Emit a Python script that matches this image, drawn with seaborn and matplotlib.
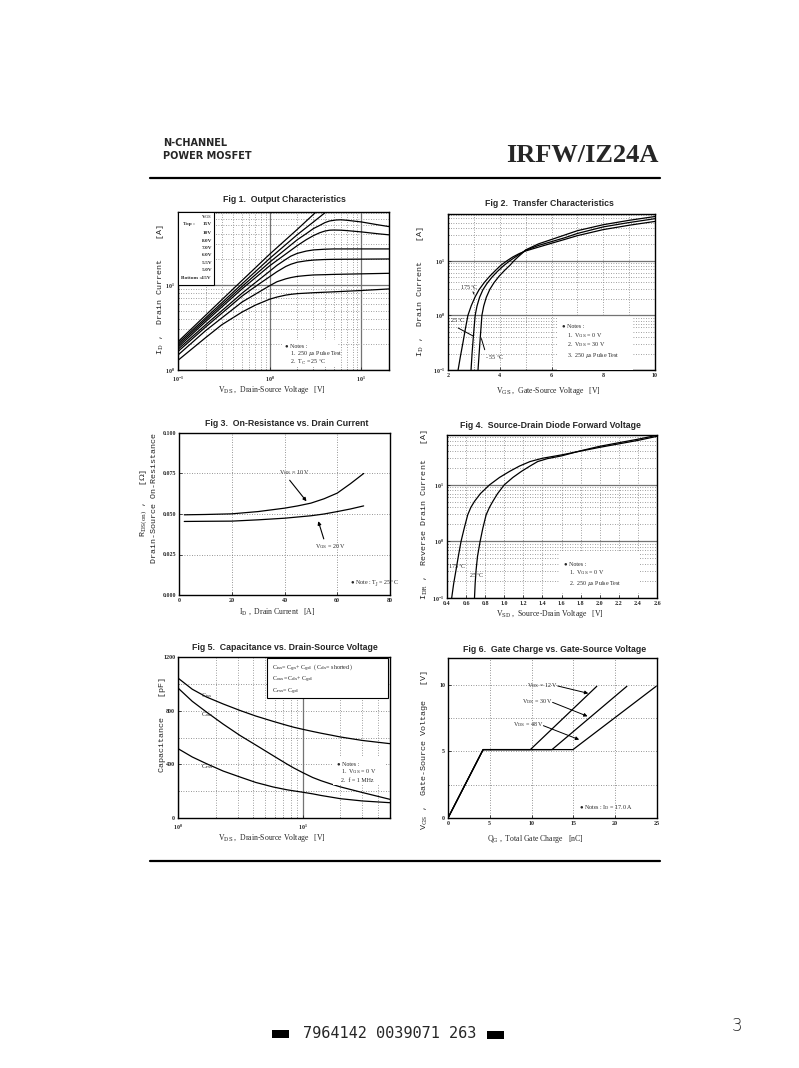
import matplotlib
matplotlib.use("Agg")
import matplotlib.pyplot as plt
import matplotlib.ticker as ticker
import matplotlib.patches as patches
import seaborn as sns

W, H = 799, 1068

# ---------------- data ----------------
# Fig 1 output characteristics : VDS [V] -> ID [A], one curve per VGS
vds_15v = [0.1, 0.2, 0.5, 1, 2, 3.2, 3.4]
id_15v = [2.15, 4.4, 11.3, 23, 45, 72, 76]
vds_10v = [0.1, 0.2, 0.5, 1, 2, 3, 4.1, 4.3]
id_10v = [2.05, 4.1, 10.3, 20.5, 39, 55, 72, 75]
vds_8v = [0.1, 0.2, 0.5, 1, 2, 2.5, 3, 3.5, 4, 4.5, 5.3, 6, 7, 10, 15, 20]
id_8v = [1.95, 3.9, 9.6, 18.5, 34, 40, 46, 50, 54, 56.5, 58, 58.3, 57.5, 55, 51, 48.5]
vds_7v = [0.1, 0.2, 0.5, 1, 2, 2.5, 3, 3.5, 4, 4.5, 5, 6, 7, 10, 15, 20]
id_7v = [1.85, 3.7, 9.0, 16.8, 29, 34, 38, 41, 43, 44, 44.2, 44, 43.5, 42, 40, 38.8]
vds_6v = [0.1, 0.2, 0.5, 1, 1.2, 1.5, 1.7, 2, 2.5, 3, 4, 5, 10, 20]
id_6v = [1.75, 3.4, 8.0, 14.5, 17, 20, 21.8, 23.5, 25, 25.8, 26.3, 26.5, 26.5, 26.5]
vds_55v = [0.1, 0.2, 0.5, 0.7, 1, 1.2, 1.5, 1.7, 2, 2.5, 3, 4, 5, 10, 20]
id_55v = [1.65, 3.2, 7.4, 9.6, 12.5, 14.3, 16.5, 17.5, 18.5, 19.2, 19.6, 19.9, 20, 20.1, 20.2]
vds_5v = [0.1, 0.2, 0.5, 0.7, 1, 1.2, 1.5, 1.7, 2, 2.5, 3, 4, 5, 10, 20]
id_5v = [1.5, 2.9, 6.3, 7.8, 9.8, 10.9, 11.8, 12.2, 12.6, 12.9, 13.1, 13.2, 13.3, 13.5, 13.7]
vds_45v = [0.1, 0.2, 0.3, 0.5, 0.7, 1, 1.2, 1.5, 1.7, 2, 3, 5, 10, 20]
id_45v = [1.3, 2.4, 3.4, 4.8, 5.8, 6.8, 7.2, 7.6, 7.75, 7.9, 8.1, 8.3, 8.6, 8.97]
fig1_vgs = ['15V', '10V', '8.0V', '7.0V', '6.0V', '5.5V', '5.0V', '4.5V']

# Fig 2 transfer characteristics : VGS [V] -> ID [A]
vgs_175c = [2.39, 2.48, 2.57, 2.67, 2.77, 2.90, 3.05, 3.20, 3.40, 3.60, 3.85, 4.05, 4.28,
            4.50, 4.75, 5.0, 5.5, 6.0, 6.5, 7.0, 8.0, 9.0, 10.0]
id_175c = [0.1, 0.178, 0.302, 0.562, 1.0, 1.51, 2.19, 2.95, 3.98, 5.13, 6.76, 8.32, 10.0,
           11.7, 13.5, 15.1, 17.8, 20.9, 24.5, 28.8, 37.2, 44.7, 52.5]
vgs_25c = [2.89, 2.93, 2.97, 3.01, 3.05, 3.12, 3.22, 3.35, 3.50, 3.70, 3.90, 4.15, 4.39,
           4.60, 4.80, 5.0, 5.5, 6.0, 6.5, 7.0, 8.0, 9.0, 10.0]
id_25c = [0.1, 0.2, 0.355, 0.603, 1.0, 1.48, 2.14, 2.95, 3.80, 5.01, 6.31, 8.13, 10.0,
          11.7, 13.5, 15.5, 19.1, 22.4, 26.3, 31.6, 41.7, 50.1, 58.9]
vgs_m55c = [3.16, 3.20, 3.24, 3.28, 3.31, 3.38, 3.48, 3.62, 3.78, 3.98, 4.20, 4.40, 4.55,
            4.70, 4.85, 5.0, 5.5, 6.0, 6.5, 7.0, 8.0, 9.0, 10.0]
id_m55c = [0.1, 0.19, 0.355, 0.631, 1.0, 1.48, 2.14, 3.02, 3.98, 5.25, 6.76, 8.32, 10.0,
           11.7, 13.5, 15.8, 20.4, 24.5, 29.5, 35.5, 45.7, 55.0, 64.6]

# Fig 3 on-resistance : ID [A] -> RDS(on) [ohm]
id_r10 = [2, 10, 20, 30, 40, 45, 50, 55, 60, 65, 70]
rds_10v = [0.0495, 0.0497, 0.0501, 0.0515, 0.0536, 0.0550, 0.0567, 0.0594, 0.0629, 0.0687, 0.0750]
id_r20 = [2, 10, 20, 30, 40, 50, 55, 60, 65, 70]
rds_20v = [0.0454, 0.0455, 0.0456, 0.0464, 0.0474, 0.0489, 0.0500, 0.0515, 0.0531, 0.0550]

# Fig 4 source-drain diode : VSD [V] -> IDR [A]
vsd_175c = [0.449, 0.47, 0.495, 0.52, 0.547, 0.58, 0.617, 0.65, 0.688, 0.75, 0.846, 0.95,
            1.056, 1.16, 1.27, 1.4, 1.6, 1.8, 2.0, 2.2, 2.4, 2.6]
idr_175c = [0.1, 0.18, 0.316, 0.56, 1.0, 1.7, 2.95, 4.0, 5.1, 7.0, 10, 13.5,
            17.3, 21.5, 25.8, 29.5, 33.8, 39.5, 46, 53, 61, 72]
vsd_25c = [0.688, 0.695, 0.705, 0.72, 0.747, 0.775, 0.81, 0.845, 0.88, 0.93, 1.0, 1.09,
           1.18, 1.27, 1.35, 1.45, 1.6, 1.8, 2.0, 2.2, 2.4, 2.58]
idr_25c = [0.1, 0.18, 0.316, 0.55, 1.0, 1.7, 2.95, 4.0, 5.1, 7.0, 10, 13.5,
           17.3, 21.5, 25.8, 29, 32.5, 40, 48, 55.5, 64, 74]

# Fig 5 capacitance : VDS [V] -> C [pF]
vds_cap = [1, 1.3, 1.69, 2.3, 3.13, 4.2, 5.8, 7.5, 8.5, 10, 12, 14, 17, 20, 30, 50]
c_iss = [1043, 960, 902, 850, 802, 760, 720, 690, 676, 661, 645, 632, 617, 604, 578, 554]
c_oss = [969, 870, 790, 700, 616, 544, 464, 401, 372, 338, 302, 278, 252, 232, 190, 139]
c_rss = [517, 455, 405, 350, 306, 265, 231, 210, 202, 192, 180, 168, 155, 144, 127, 114]

# Fig 6 gate charge : QG [nC] -> VGS [V]
qg_12v = [0, 4.2, 9.85, 17.8]
vgs_12v = [0, 5.13, 5.13, 9.88]
qg_30v = [0, 4.2, 12.44, 21.4]
vgs_30v = [0, 5.13, 5.13, 9.88]
qg_48v = [0, 4.2, 14.95, 24.9]
vgs_48v = [0, 5.13, 5.13, 9.88]

# ---------------- figure ----------------
sns.set_theme(style="white")
plt.rcParams['font.family'] = ['DejaVu Sans']
plt.rcParams['mathtext.fontset'] = 'dejavuserif'

fig = plt.figure(figsize=(W / 100, H / 100), dpi=100)


def px_ax(l, t, r, b):
    return fig.add_axes([l / W, 1 - b / H, (r - l) / W, (b - t) / H])


def ptext(x, y, s, **kw):
    fig.text(x / W, 1 - y / H, s, **kw)


TITLE = dict(fontsize=6.3, fontweight='bold', family='Liberation Sans', ha='center', va='center')
XLAB = dict(fontsize=5.6, family='Liberation Serif', ha='center', va='center')
YLAB = dict(fontsize=6.0, family='Liberation Mono', rotation=90, ha='center', va='center')
NOTE = dict(fontsize=4.3, family='Liberation Serif', ha='left', va='center', zorder=5)


def curve(ax, x, y):
    sns.lineplot(x=x, y=y, ax=ax, color='black', linewidth=0.9, estimator=None, sort=False)


def style_ax(ax):
    ax.set_axisbelow(True)
    for s in ax.spines.values():
        s.set_visible(True)
        s.set_color('black')
        s.set_linewidth(1.0)
    ax.tick_params(which='both', direction='in', length=2, width=0.6, labelsize=4.3, pad=2,
                   bottom=True, left=True)
    ax.tick_params(which='minor', length=1)
    for lab in ax.get_xticklabels() + ax.get_yticklabels():
        lab.set_family('Liberation Serif')
        lab.set_fontweight('bold')
    ax.set_xlabel('')
    ax.set_ylabel('')


def log_grid(ax, axis):
    a = ax.xaxis if axis == 'x' else ax.yaxis
    a.set_minor_locator(ticker.LogLocator(base=10, subs=range(2, 10)))
    a.set_minor_formatter(ticker.NullFormatter())
    ax.grid(True, axis=axis, which='major', color='0.45', lw=0.9, ls='-')
    ax.grid(True, axis=axis, which='minor', color='0.5', lw=0.6, ls=(0, (1, 2)))


def lin_grid(ax, axis, step):
    a = ax.xaxis if axis == 'x' else ax.yaxis
    a.set_minor_locator(ticker.MultipleLocator(step))
    ax.grid(True, axis=axis, which='both', color='0.45', lw=0.6, ls=(0, (1, 2)))


# ---- header ----
ptext(163, 143, 'N-CHANNEL', fontsize=7, fontweight='bold', family='DejaVu Sans', ha='left', va='center')
ptext(163, 156, 'POWER MOSFET', fontsize=7, fontweight='bold', family='DejaVu Sans', ha='left', va='center')
ptext(659, 156, 'IRFW/IZ24A', fontsize=19, fontweight='bold', family='Liberation Serif', ha='right', va='center')
fig.add_artist(plt.Line2D([150 / W, 660 / W], [1 - 178 / H, 1 - 178 / H], color='black', lw=1.6))
fig.add_artist(plt.Line2D([150 / W, 660 / W], [1 - 861 / H, 1 - 861 / H], color='black', lw=1.6))

# ---- Fig 1 ----
ax1 = px_ax(178, 212, 389, 370)
ax1.set_xscale('log')
ax1.set_yscale('log')
for xs, ys in [(vds_15v, id_15v), (vds_10v, id_10v), (vds_8v, id_8v), (vds_7v, id_7v),
               (vds_6v, id_6v), (vds_55v, id_55v), (vds_5v, id_5v), (vds_45v, id_45v)]:
    curve(ax1, xs, ys)
ax1.set_xlim(0.1, 20)
ax1.set_ylim(1, 72)
log_grid(ax1, 'x')
log_grid(ax1, 'y')
style_ax(ax1)
ax1.tick_params(axis='x', pad=3.5)
ax1.add_patch(patches.Rectangle((0, (370 - 285) / 158), (214 - 178) / 211, 1 - (370 - 285) / 158,
                                transform=ax1.transAxes, facecolor='white', edgecolor='black',
                                lw=0.8, zorder=4))
ax1.add_patch(patches.Rectangle(((283 - 178) / 211, (370 - 367) / 158), 55 / 211, 27 / 158,
                                transform=ax1.transAxes, facecolor='white', edgecolor='none', zorder=4))
ptext(207, 217, r'V$_{\rm GS}$', fontsize=3.8, family='Liberation Serif', fontweight='bold',
      ha='center', va='center', zorder=5)
rows_y = [224.3, 233.3, 240.7, 247.7, 255, 262.7, 270, 278.3]
for lab, yy in zip(fig1_vgs, rows_y):
    ptext(212, yy, lab, fontsize=3.8, family='Liberation Serif', fontweight='bold',
          ha='right', va='center', zorder=5)
ptext(183, rows_y[0], 'Top :', fontsize=3.8, family='Liberation Serif', fontweight='bold',
      ha='left', va='center', zorder=5)
ptext(181, rows_y[-1], 'Bottom :', fontsize=3.8, family='Liberation Serif', fontweight='bold',
      ha='left', va='center', zorder=5)
ptext(285, 346, '● Notes :', **NOTE)
ptext(290, 354, r'1.  250 $\mu$s Pulse Test', **NOTE)
ptext(290, 362, r'2.  T$_{\rm C}$ = 25 $^{\circ}$C', **NOTE)
ptext(284.5, 200, 'Fig 1.  Output Characteristics', **TITLE)
ptext(272, 390, r'V$_{\rm DS}$ ,  Drain-Source Voltage   [V]', **XLAB)
ptext(160, 290, r'I$_{\rm D}$ ,  Drain Current    [A]', **YLAB)

# ---- Fig 2 ----
ax2 = px_ax(448, 214, 655, 370)
ax2.set_yscale('log')
for xs, ys in [(vgs_175c, id_175c), (vgs_25c, id_25c), (vgs_m55c, id_m55c)]:
    curve(ax2, xs, ys)
ax2.set_xlim(2, 10)
ax2.set_ylim(0.1, 71.8)
ax2.xaxis.set_major_locator(ticker.MultipleLocator(2))
ax2.xaxis.set_minor_locator(ticker.MultipleLocator(1))
ax2.grid(True, axis='x', which='both', color='0.5', lw=0.6, ls=(0, (1, 2)))
log_grid(ax2, 'y')
style_ax(ax2)
ax2.add_patch(patches.Rectangle(((557 - 448) / 207, 0), 76 / 207, 53 / 156,
                                transform=ax2.transAxes, facecolor='white', edgecolor='none', zorder=4))
ax2.annotate('', xy=(3.05, 2.2), xytext=(2.92, 3.0),
             arrowprops=dict(arrowstyle='-', color='black', lw=0.7))
ax2.text(2.45, 3.2, r'175 $^{\circ}$C', fontsize=4.3, family='Liberation Serif', ha='left', va='center')
ax2.annotate('', xy=(3.05, 0.40), xytext=(2.30, 0.62),
             arrowprops=dict(arrowstyle='-', color='black', lw=0.7))
ax2.text(2.08, 0.80, r'25 $^{\circ}$C', fontsize=4.3, family='Liberation Serif', ha='left', va='center')
ax2.annotate('', xy=(3.26, 0.42), xytext=(3.45, 0.21),
             arrowprops=dict(arrowstyle='-', color='black', lw=0.7))
ax2.text(3.42, 0.17, r'- 55 $^{\circ}$C', fontsize=4.3, family='Liberation Serif', ha='left', va='center')
ptext(562, 326, '● Notes :', **NOTE)
ptext(567, 336, r'1.  V$_{\rm GS}$ = 0 V', **NOTE)
ptext(567, 345, r'2.  V$_{\rm DS}$ = 30 V', **NOTE)
ptext(567, 355, r'3.  250 $\mu$s Pulse Test', **NOTE)
ptext(549, 203, 'Fig 2.  Transfer Characteristics', **TITLE)
ptext(548, 391, r'V$_{\rm GS}$ ,  Gate-Source Voltage   [V]', **XLAB)
ptext(421, 292, r'I$_{\rm D}$ ,  Drain Current    [A]', **YLAB)

# ---- Fig 3 ----
ax3 = px_ax(179, 433, 390, 595)
curve(ax3, id_r10, rds_10v)
curve(ax3, id_r20, rds_20v)
ax3.set_xlim(0, 80)
ax3.set_ylim(0, 0.1)
ax3.xaxis.set_major_locator(ticker.MultipleLocator(20))
ax3.yaxis.set_major_locator(ticker.MultipleLocator(0.025))
ax3.yaxis.set_major_formatter(ticker.FormatStrFormatter('%.3f'))
ax3.grid(True, which='major', color='0.45', lw=0.6, ls=(0, (1, 2)))
style_ax(ax3)
ax3.annotate('', xy=(49.0, 0.0565), xytext=(41.3, 0.0722),
             arrowprops=dict(arrowstyle='-|>', color='black', lw=0.8, mutation_scale=5))
ax3.text(38, 0.0755, r'V$_{\rm GS}$ = 10 V', fontsize=4.3, family='Liberation Serif', ha='left', va='center')
ax3.annotate('', xy=(52.5, 0.0472), xytext=(55.2, 0.033),
             arrowprops=dict(arrowstyle='-|>', color='black', lw=0.8, mutation_scale=5))
ax3.text(51.5, 0.0299, r'V$_{\rm GS}$ = 20 V', fontsize=4.3, family='Liberation Serif', ha='left', va='center')
ax3.text(65, 0.0072, r'● Note : T$_{\rm J}$ = 25 $^{\circ}$C', fontsize=4.3, family='Liberation Serif',
         ha='left', va='center')
ptext(287, 423, 'Fig 3.  On-Resistance vs. Drain Current', **TITLE)
ptext(277, 612, r'I$_{\rm D}$ ,  Drain Current   [A]', **XLAB)
ptext(154, 498, 'Drain-Source On-Resistance', **YLAB)
ptext(144, 503, r'R$_{\rm DS(on)}$ ,   [$\Omega$]', **YLAB)

# ---- Fig 4 ----
ax4 = px_ax(447, 435, 657, 598)
ax4.set_yscale('log')
curve(ax4, vsd_175c, idr_175c)
curve(ax4, vsd_25c, idr_25c)
ax4.set_xlim(0.4, 2.6)
ax4.set_ylim(0.1, 76)
ax4.xaxis.set_major_locator(ticker.MultipleLocator(0.2))
ax4.xaxis.set_major_formatter(ticker.FormatStrFormatter('%.1f'))
ax4.grid(True, axis='x', which='major', color='0.5', lw=0.6, ls=(0, (1, 2)))
log_grid(ax4, 'y')
style_ax(ax4)
ax4.add_patch(patches.Rectangle(((560 - 447) / 210, 0.03), 80 / 210, 42 / 163,
                                transform=ax4.transAxes, facecolor='white', edgecolor='none', zorder=4))
ax4.text(0.41, 0.35, r'175 $^{\circ}$C', fontsize=4.3, family='Liberation Serif', ha='left', va='center')
ax4.text(0.63, 0.245, r'25 $^{\circ}$C', fontsize=4.3, family='Liberation Serif', ha='left', va='center')
ptext(564, 564, '● Notes :', **NOTE)
ptext(569, 573, r'1.  V$_{\rm GS}$ = 0 V', **NOTE)
ptext(569, 583, r'2.  250 $\mu$s Pulse Test', **NOTE)
ptext(550, 425, 'Fig 4.  Source-Drain Diode Forward Voltage', **TITLE)
ptext(550, 614, r'V$_{\rm SD}$ ,  Source-Drain Voltage   [V]', **XLAB)
ptext(425, 515, r'I$_{\rm DR}$ ,  Reverse Drain Current   [A]', **YLAB)

# ---- Fig 5 ----
ax5 = px_ax(178, 657, 390, 818)
ax5.set_xscale('log')
curve(ax5, vds_cap, c_iss)
curve(ax5, vds_cap, c_oss)
curve(ax5, vds_cap, c_rss)
ax5.set_xlim(1, 50)
ax5.set_ylim(0, 1200)
ax5.yaxis.set_major_locator(ticker.MultipleLocator(400))
lin_grid(ax5, 'y', 200)
log_grid(ax5, 'x')
style_ax(ax5)
ax5.tick_params(axis='x', pad=3.5)
ax5.add_patch(patches.Rectangle(((267 - 178) / 212, (818 - 698) / 161), 121 / 212, 40 / 161,
                                transform=ax5.transAxes, facecolor='white', edgecolor='black',
                                lw=0.8, zorder=4))
ax5.add_patch(patches.Rectangle(((333 - 178) / 212, (818 - 785) / 161), 52 / 212, 28 / 161,
                                transform=ax5.transAxes, facecolor='white', edgecolor='none', zorder=4))
ptext(272, 668, r'C$_{\rm iss}$= C$_{\rm gs}$+ C$_{\rm gd}$  ( C$_{\rm ds}$= shorted )', **NOTE)
ptext(272, 680, r'C$_{\rm oss}$= C$_{\rm ds}$+ C$_{\rm gd}$', **NOTE)
ptext(272, 692, r'C$_{\rm rss}$= C$_{\rm gd}$', **NOTE)
for lab, yv in [('iss', 914), ('oss', 770), ('rss', 380)]:
    ax5.text(1.54, yv, r'C$_{\rm %s}$' % lab, fontsize=4.3, family='Liberation Serif', ha='left', va='center')
ptext(337, 764, '● Notes :', **NOTE)
ptext(341, 772, r'1.  V$_{\rm GS}$ = 0 V', **NOTE)
ptext(341, 780, r'2.  f = 1 MHz', **NOTE)
ptext(285, 647, 'Fig 5.  Capacitance vs. Drain-Source Voltage', **TITLE)
ptext(272, 838, r'V$_{\rm DS}$ ,  Drain-Source Voltage   [V]', **XLAB)
ptext(162, 725, 'Capacitance    [pF]', **YLAB)

# ---- Fig 6 ----
ax6 = px_ax(448, 658, 657, 818)
curve(ax6, qg_12v, vgs_12v)
curve(ax6, qg_30v, vgs_30v)
curve(ax6, qg_48v, vgs_48v)
ax6.set_xlim(0, 25)
ax6.set_ylim(0, 12)
ax6.xaxis.set_major_locator(ticker.MultipleLocator(5))
ax6.yaxis.set_major_locator(ticker.MultipleLocator(5))
ax6.yaxis.set_minor_locator(ticker.MultipleLocator(2.5))
ax6.grid(True, which='both', color='0.45', lw=0.6, ls=(0, (1, 2)))
style_ax(ax6)
for txt, tx, ty, hx, hy in [('12', 9.5, 9.95, 17.1, 9.3), ('30', 8.9, 8.75, 17.0, 7.55),
                            ('48', 7.8, 7.0, 16.0, 5.8)]:
    ax6.text(tx, ty, r'V$_{\rm DS}$ = %s V' % txt, fontsize=4.3, family='Liberation Serif',
             ha='left', va='center')
    ax6.annotate('', xy=(hx, hy), xytext=(tx + 3.3, ty),
                 arrowprops=dict(arrowstyle='-|>', color='black', lw=0.7, mutation_scale=5))
ax6.text(15.7, 0.75, r'● Notes : I$_{\rm D}$ = 17.0 A', fontsize=4.3, family='Liberation Serif',
         ha='left', va='center')
ptext(555, 649, 'Fig 6.  Gate Charge vs. Gate-Source Voltage', **TITLE)
ptext(535, 839, r'Q$_{\rm G}$ ,  Total Gate Charge   [nC]', **XLAB)
ptext(425, 750, r'V$_{\rm GS}$ ,  Gate-Source Voltage   [V]', **YLAB)

# ---- footer ----
fig.add_artist(patches.Rectangle((272 / W, 1 - 1038 / H), 17 / W, 8 / H, transform=fig.transFigure,
                                 facecolor='black', edgecolor='none'))
fig.add_artist(patches.Rectangle((487 / W, 1 - 1039 / H), 17 / W, 8 / H, transform=fig.transFigure,
                                 facecolor='black', edgecolor='none'))
ptext(390, 1033, '7964142 0039071 263', fontsize=11, family='DejaVu Sans Mono', ha='center', va='center')
ptext(737, 1026, '3', fontsize=12, family='DejaVu Sans', fontweight='light', ha='center', va='center')

fig.savefig('out.png', dpi=100, facecolor='white')
